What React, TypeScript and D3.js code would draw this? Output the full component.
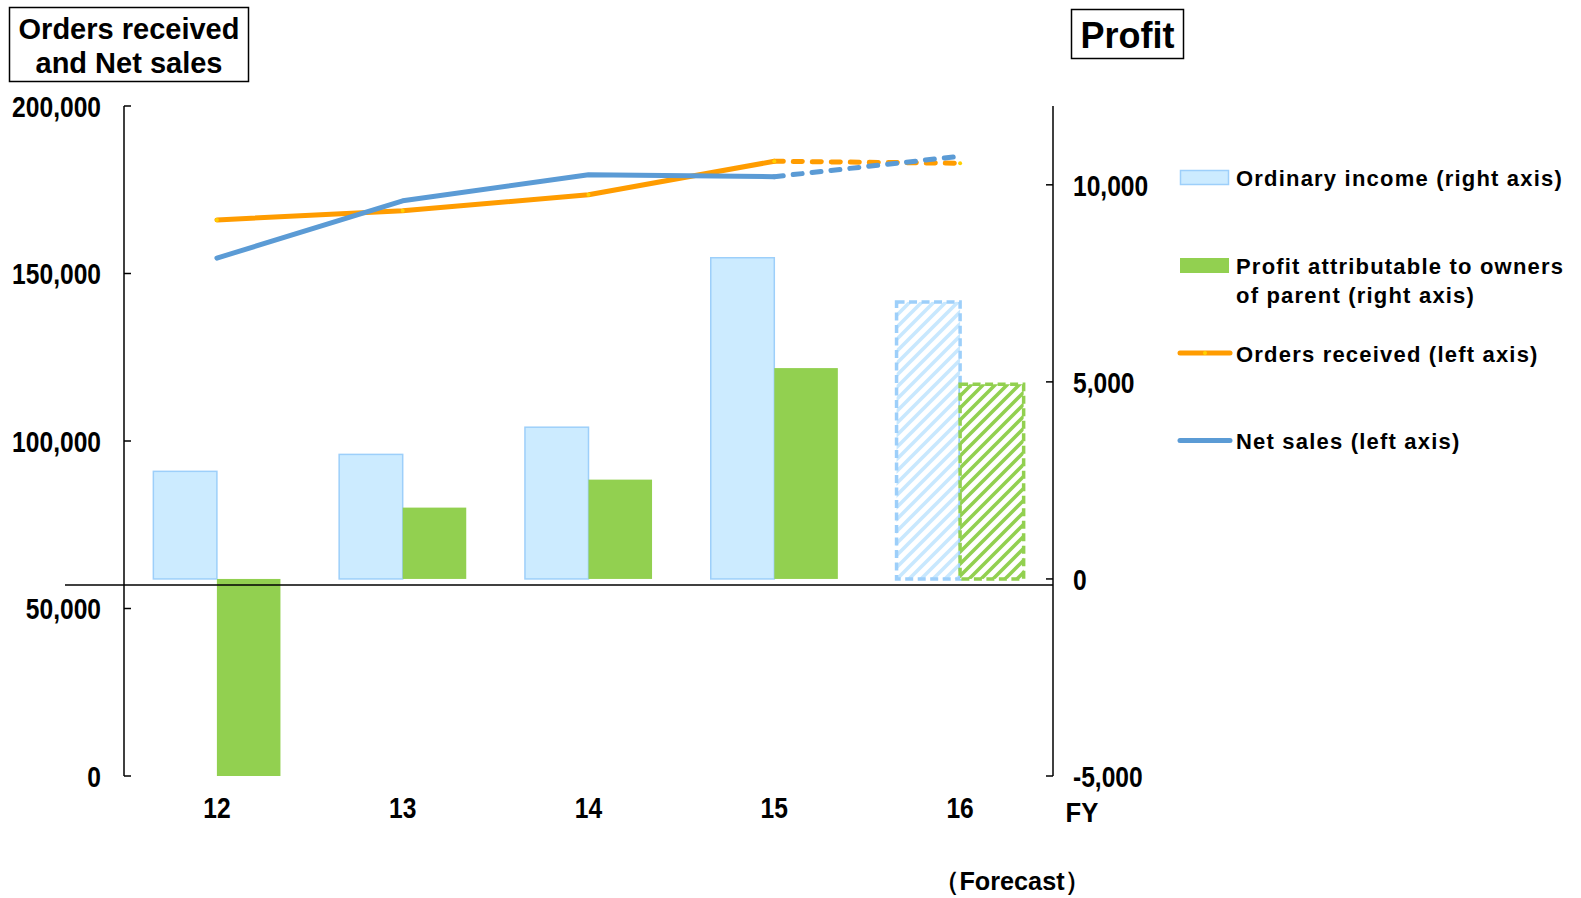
import React from "react";
import * as d3 from "d3";

const fiscalYears = ["12", "13", "14", "15", "16"];
const ordinaryIncome = [2730, 3160, 3850, 8150, 7030];
const profitOwners = [-5000, 1810, 2520, 5350, 4940];
const ordersReceived = [166000, 168700, 173500, 183500, 182900];
const netSales = [154600, 171700, 179500, 178900, 185000];
const isForecast = [false, false, false, false, true];
const leftTicks = [0, 50000, 100000, 150000, 200000];
const rightTicks = [-5000, 0, 5000, 10000];

const W = 1581;
const H = 898;
const FONT = "'Liberation Sans', Arial, Helvetica, sans-serif";
const ORANGE = "#FF9C00";
const BLUE = "#5B9BD5";
const OI_FILL = "#CCEBFF";
const OI_STROKE = "#9DCFFA";
const GREEN = "#92D050";

const fmt = d3.formatLocale({
  decimal: ".",
  thousands: ",",
  grouping: [3],
  currency: ["", ""],
  minus: "-",
}).format(",");

function CText(props: { x: number; y: number; anchor: "start" | "middle" | "end"; size?: number; sx?: number; children: React.ReactNode }) {
  const { x, y, anchor, size = 30, sx = 0.82, children } = props;
  return (
    <text
      transform={`translate(${x},${y}) scale(${sx},1)`}
      dy="0.36em"
      textAnchor={anchor}
      style={{ fontFamily: FONT, fontWeight: 700, fontSize: size }}
    >
      {children}
    </text>
  );
}

export default function App() {
  const x = d3.scaleBand<string>().domain(fiscalYears).range([124, 1053]).padding(0);
  const yL = d3.scaleLinear().domain([0, 200000]).range([776, 106]);
  const yR = d3.scaleLinear().domain([-5000, 12000]).range([776, 106]).clamp(true);
  const cx = (i: number) => (x(fiscalYears[i]) as number) + x.bandwidth() / 2;
  const bw = x.step() * 0.342;

  const pathFor = (vals: number[], idx: number[]) =>
    d3
      .line<number>()
      .x((i) => cx(i))
      .y((i) => yL(vals[i]))(idx) as string;

  const solidIdx = [0, 1, 2, 3];
  const dashIdx = [3, 4];

  const legStyle: React.CSSProperties = {
    fontFamily: FONT,
    fontWeight: 700,
    fontSize: 22,
    letterSpacing: 1.2,
  };

  return (
    <div style={{ position: "absolute", left: 0, top: 0 }}>
      <svg width={W} height={H} style={{ display: "block", background: "#fff" }}>
        <defs>
          <pattern id="hatchBlue" patternUnits="userSpaceOnUse" width={12} height={12}>
            <rect width={12} height={12} fill="#fff" />
            <path d="M-2,2 l4,-4 M0,12 l12,-12 M10,14 l4,-4" stroke="#C8E8FE" strokeWidth={3.6} />
          </pattern>
          <pattern id="hatchGreen" patternUnits="userSpaceOnUse" width={12} height={12}>
            <rect width={12} height={12} fill="#fff" />
            <path d="M-2,2 l4,-4 M0,12 l12,-12 M10,14 l4,-4" stroke={GREEN} strokeWidth={3.6} />
          </pattern>
        </defs>

        {/* Title boxes */}
        <rect x={9.5} y={7.5} width={239} height={74} fill="#fff" stroke="#000" strokeWidth={1.5} />
        <text x={129} y={39} textAnchor="middle" style={{ fontFamily: FONT, fontWeight: 700, fontSize: 29 }}>
          Orders received
        </text>
        <text x={129} y={73} textAnchor="middle" style={{ fontFamily: FONT, fontWeight: 700, fontSize: 29 }}>
          and Net sales
        </text>
        <rect x={1071.5} y={9.5} width={112} height={49} fill="#fff" stroke="#000" strokeWidth={1.5} />
        <text x={1127.5} y={48} textAnchor="middle" style={{ fontFamily: FONT, fontWeight: 700, fontSize: 36 }}>
          Profit
        </text>

        {/* Bars */}
        {fiscalYears.map((fy, i) => {
          const c = cx(i);
          const y0 = yR(0);
          const yo = yR(ordinaryIncome[i]);
          const yp = yR(profitOwners[i]);
          const fc = isForecast[i];
          return (
            <g key={fy}>
              <rect
                x={c - bw}
                y={Math.min(yo, y0)}
                width={bw}
                height={Math.abs(y0 - yo)}
                fill={fc ? "url(#hatchBlue)" : OI_FILL}
                stroke={OI_STROKE}
                strokeWidth={fc ? 3.5 : 1.5}
                strokeDasharray={fc ? "8 4.5" : undefined}
              />
              <rect
                x={c}
                y={Math.min(yp, y0)}
                width={bw}
                height={Math.abs(y0 - yp)}
                fill={fc ? "url(#hatchGreen)" : GREEN}
                stroke={fc ? GREEN : "none"}
                strokeWidth={fc ? 3.5 : 0}
                strokeDasharray={fc ? "8 4.5" : undefined}
              />
            </g>
          );
        })}

        {/* zero line */}
        <line x1={65} x2={1053} y1={yR(0) + 6} y2={yR(0) + 6} stroke="#000" strokeWidth={1.5} />

        {/* Left axis */}
        <line x1={124} x2={124} y1={yL(200000)} y2={yL(0)} stroke="#000" strokeWidth={1.5} />
        {leftTicks.map((t) => (
          <g key={"l" + t}>
            <line x1={124} x2={131} y1={yL(t)} y2={yL(t)} stroke="#000" strokeWidth={1.5} />
            <CText x={101} y={yL(t)} anchor="end">{fmt(t)}</CText>
          </g>
        ))}

        {/* Right axis */}
        <line x1={1053} x2={1053} y1={yR(12000)} y2={yR(-5000)} stroke="#000" strokeWidth={1.5} />
        {rightTicks.map((t) => (
          <g key={"r" + t}>
            <line x1={1046} x2={1053} y1={yR(t)} y2={yR(t)} stroke="#000" strokeWidth={1.5} />
            <CText x={1073} y={yR(t)} anchor="start">{fmt(t)}</CText>
          </g>
        ))}

        {/* Lines */}
        <path d={pathFor(ordersReceived, solidIdx)} fill="none" stroke={ORANGE} strokeWidth={5} strokeLinejoin="round" strokeLinecap="round" />
        <path d={pathFor(ordersReceived, dashIdx)} fill="none" stroke={ORANGE} strokeWidth={5} strokeDasharray="9 10" strokeLinecap="round" />
        <path d={pathFor(netSales, solidIdx)} fill="none" stroke={BLUE} strokeWidth={5} strokeLinejoin="round" strokeLinecap="round" />
        <path d={pathFor(netSales, dashIdx)} fill="none" stroke={BLUE} strokeWidth={5} strokeDasharray="9 10" strokeLinecap="round" />
        {ordersReceived.map((v, i) => (
          <circle key={"o" + i} cx={cx(i)} cy={yL(v)} r={2} fill="#FFD000" />
        ))}

        {/* Category labels */}
        {fiscalYears.map((fy, i) => (
          <CText key={"x" + fy} x={cx(i)} y={807} anchor="middle">{fy}</CText>
        ))}
        <CText x={1082} y={812} anchor="middle" size={27} sx={0.95}>FY</CText>
        <CText x={1012} y={881} anchor="middle" size={26} sx={0.97}>（Forecast）</CText>

        {/* Legend */}
        <rect x={1180.5} y={170.5} width={48} height={14} fill={OI_FILL} stroke={OI_STROKE} strokeWidth={1.5} />
        <text x={1236} y={178} dy="0.36em" style={legStyle}>Ordinary income (right axis)</text>

        <rect x={1180} y={258} width={49} height={15} fill={GREEN} />
        <text x={1236} y={266} dy="0.36em" style={legStyle}>Profit attributable to owners</text>
        <text x={1236} y={295} dy="0.36em" style={legStyle}>of parent (right axis)</text>

        <line x1={1180} x2={1230} y1={353} y2={353} stroke={ORANGE} strokeWidth={5} strokeLinecap="round" />
        <circle cx={1205} cy={353} r={2} fill="#FFD000" />
        <text x={1236} y={354} dy="0.36em" style={legStyle}>Orders received (left axis)</text>

        <line x1={1180} x2={1230} y1={440.5} y2={440.5} stroke={BLUE} strokeWidth={5} strokeLinecap="round" />
        <text x={1236} y={441.5} dy="0.36em" style={legStyle}>Net sales (left axis)</text>
      </svg>
    </div>
  );
}
